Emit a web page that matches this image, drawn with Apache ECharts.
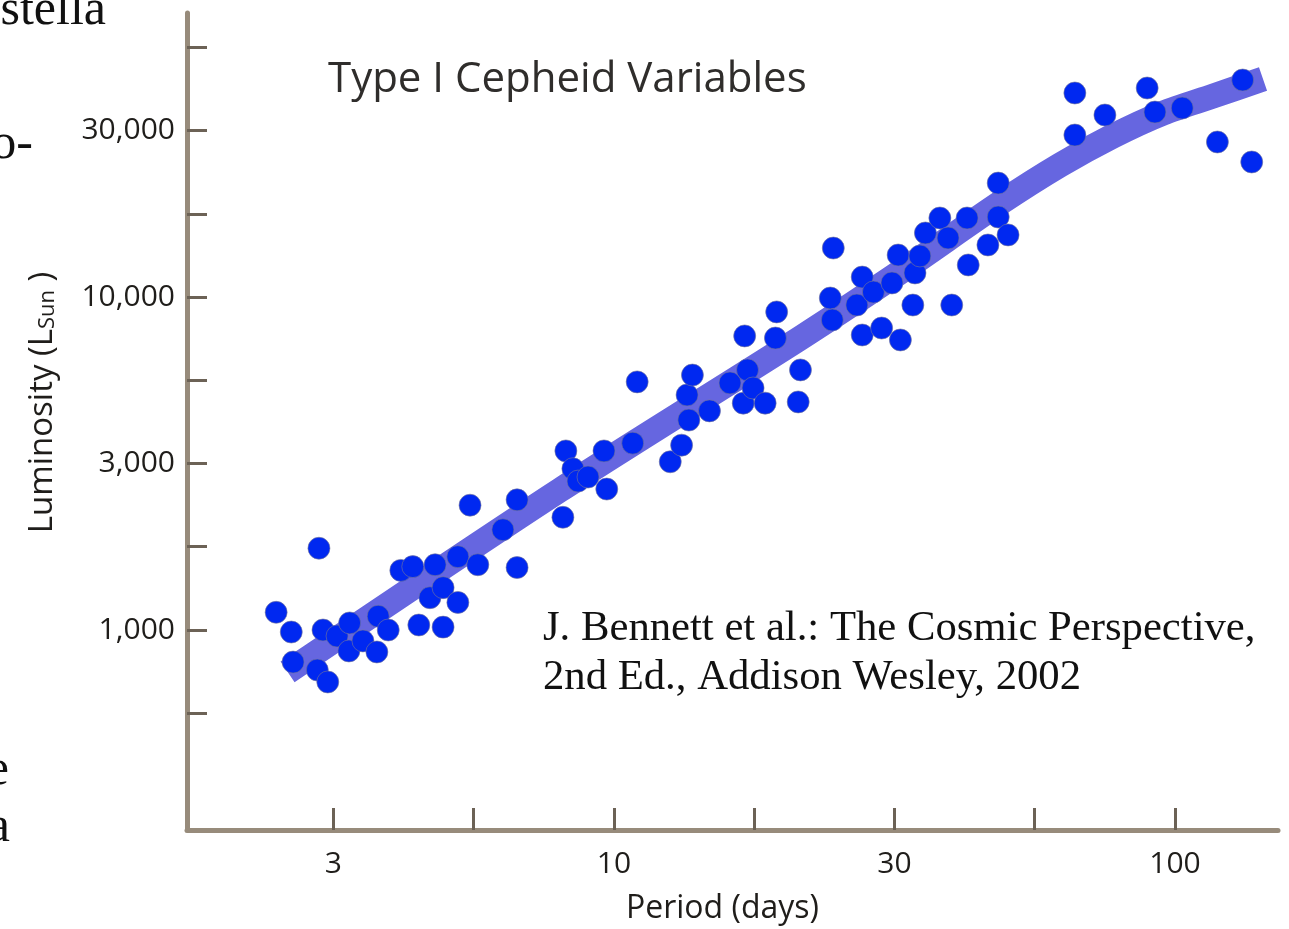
<!DOCTYPE html>
<html>
<head>
<meta charset="utf-8">
<script src="https://cdn.jsdelivr.net/npm/echarts@6/dist/echarts.min.js"></script>
<style>
  html, body { margin: 0; padding: 0; background: #ffffff; }
  #chart { width: 1289px; height: 929px; }
</style>
</head>
<body>
<div id="chart"></div>
<script>
// Type I Cepheids: pulsation period (days) and mean luminosity (solar units)
const periods = [
  2.50, 2.66, 2.68, 2.96, 3.09, 2.98, 3.03, 3.21, 3.38, 3.37,
  3.57, 3.78, 3.80, 3.96, 4.49, 4.70, 4.96, 4.96, 5.27, 4.17,
  4.38, 4.80, 5.27, 5.72, 6.72, 5.54, 6.34, 6.72, 8.11, 8.21,
  8.45, 8.63, 8.99, 9.60, 9.71, 10.8, 11.0, 12.6, 13.2, 13.6,
  13.5, 13.8, 14.8, 16.1, 17.0, 17.3, 17.7, 18.6, 17.1, 19.4,
  19.5, 21.5, 21.3, 24.6, 24.3, 24.5, 27.7, 27.1, 29.0, 27.7,
  30.0, 32.4, 31.3, 32.1, 34.1, 34.4, 35.1, 35.9, 38.1, 39.4,
  40.0, 42.6, 42.8, 46.4, 48.4, 50.4, 48.4, 66.3, 66.3, 75.0,
  89.2, 92.1, 103, 119, 137, 132
];
const luminosities = [
  1130, 986, 801, 758, 698, 1760, 1000, 959, 1050, 865,
  927, 859, 1100, 1000, 1035, 1250, 1020, 1340, 1210, 1510,
  1550, 1570, 1660, 1570, 1540, 2370, 2000, 2460, 2180, 3450,
  3050, 2800, 2880, 3450, 2650, 3640, 5560, 3200, 3590, 4270,
  5080, 5830, 4550, 5520, 4800, 6040, 5330, 4800, 7640, 7530,
  9020, 6040, 4840, 14030, 9930, 8530, 11480, 9460, 10350, 7690,
  8070, 7430, 11020, 13370, 9460, 11810, 13280, 15570, 17270, 15040,
  9460, 17270, 12480, 14330, 17390, 15360, 21990, 40990, 30650, 35200,
  42430, 35930, 36940, 29210, 25440, 44840
];

// Fitted period-luminosity relation (drawn as a broad band)
const trendPeriods = [2.62, 8.01, 21.5, 32.4, 48.8, 62.4, 77.5, 95.2, 117, 143.5];
const trendLums = [748, 2630, 7530, 11890, 19160, 24910, 30440, 35690, 40150, 45150];

// Axis ticks every quarter decade, labels every half decade
const xTickExponents = [0.5, 0.75, 1, 1.25, 1.5, 1.75, 2];
const xLabelExponents = [0.5, 1, 1.5, 2];
const xTickLabels = ['3', '10', '30', '100'];
const yTickExponents = [2.75, 3, 3.25, 3.5, 3.75, 4, 4.25, 4.5, 4.75];
const yLabelExponents = [3, 3.5, 4, 4.5];
const yTickLabels = ['1,000', '3,000', '10,000', '30,000'];

const pow10 = e => Math.pow(10, e);
const labelFor = (exps, labels) => value => {
  const e = Math.log10(value);
  const i = exps.findIndex(x => Math.abs(x - e) < 1e-6);
  return i >= 0 ? labels[i] : '';
};

const axisColor = '#978b7b';
const tickColor = '#6c6256';
const textColor = '#1f1d1a';
const sans = '"Open Sans", "Noto Sans", sans-serif';
const serif = '"Liberation Serif", "DejaVu Serif", serif';

const chart = echarts.init(document.getElementById('chart'), null, { renderer: 'canvas' });

chart.setOption({
  backgroundColor: '#ffffff',
  animation: false,
  title: {
    text: 'Type I Cepheid Variables',
    left: 328,
    top: 59,
    padding: 0,
    textStyle: { fontFamily: sans, fontSize: 42, fontWeight: 'normal', color: '#2f2d2b' }
  },
  grid: { left: 187, right: 11, top: 13, bottom: 99, containLabel: false, outerBoundsMode: 'none' },
  xAxis: {
    type: 'log',
    logBase: 10,
    min: 1.734,
    max: 152.6,
    name: 'Period (days)',
    nameLocation: 'middle',
    nameGap: 63,
    nameTextStyle: { fontFamily: sans, fontSize: 32, color: textColor, padding: [0, 20, 0, 0] },
    axisLine: { show: true, lineStyle: { color: axisColor, width: 5 } },
    axisTick: {
      show: true, inside: true, length: 22,
      customValues: xTickExponents.map(pow10),
      lineStyle: { color: tickColor, width: 3 }
    },
    minorTick: { show: false },
    axisLabel: {
      customValues: xLabelExponents.map(pow10),
      formatter: labelFor(xLabelExponents, xTickLabels),
      margin: 19,
      fontFamily: sans, fontSize: 30, color: textColor
    },
    splitLine: { show: false }
  },
  yAxis: {
    type: 'log',
    logBase: 10,
    min: 250.8,
    max: 71270,
    name: 'Luminosity (L{sub|Sun} )',
    nameLocation: 'middle',
    nameGap: 128,
    nameTextStyle: {
      fontFamily: sans, fontSize: 33, color: textColor,
      padding: [0, 0, 0, 38],
      rich: { sub: { fontFamily: sans, fontSize: 22, color: textColor, padding: [10, 0, 0, 0] } }
    },
    axisLine: { show: true, lineStyle: { color: axisColor, width: 5 } },
    axisTick: {
      show: true, inside: true, length: 20,
      customValues: yTickExponents.map(pow10),
      lineStyle: { color: tickColor, width: 3 }
    },
    minorTick: { show: false },
    axisLabel: {
      customValues: yLabelExponents.map(pow10),
      formatter: labelFor(yLabelExponents, yTickLabels),
      margin: 12,
      fontFamily: sans, fontSize: 30, color: textColor
    },
    splitLine: { show: false }
  },
  series: [
    {
      name: 'P-L relation',
      type: 'line',
      data: trendPeriods.map((p, i) => [p, trendLums[i]]),
      smooth: 0.3,
      showSymbol: false,
      symbol: 'none',
      z: 1,
      lineStyle: { color: '#6666e0', width: 25, cap: 'butt', join: 'round' },
      silent: true
    },
    {
      name: 'Cepheids',
      type: 'scatter',
      data: periods.map((p, i) => [p, luminosities[i]]),
      symbol: 'circle',
      symbolSize: 22,
      z: 3,
      itemStyle: { color: '#0028f0', opacity: 1, borderColor: 'rgba(120,120,150,0.6)', borderWidth: 1 }
    }
  ],
  graphic: [
    {
      type: 'text', left: 543, top: 604,
      style: {
        text: 'J. Bennett et al.: The Cosmic Perspective,\n2nd Ed., Addison Wesley, 2002',
        font: '42.7px ' + serif, lineHeight: 49, fill: '#111111'
      }
    },
    // surrounding slide text, cut at the left edge
    { type: 'text', x: 106, y: 11, style: { text: 'stella', font: '50px ' + serif, fill: '#111111', align: 'right', verticalAlign: 'middle' } },
    { type: 'text', x: 33, y: 145, style: { text: 'o-', font: '50px ' + serif, fill: '#111111', align: 'right', verticalAlign: 'middle' } },
    { type: 'text', x: 9, y: 771, style: { text: 'e', font: '50px ' + serif, fill: '#111111', align: 'right', verticalAlign: 'middle' } },
    { type: 'text', x: 10, y: 828, style: { text: 'a', font: '50px ' + serif, fill: '#111111', align: 'right', verticalAlign: 'middle' } }
  ]
});
</script>
</body>
</html>
